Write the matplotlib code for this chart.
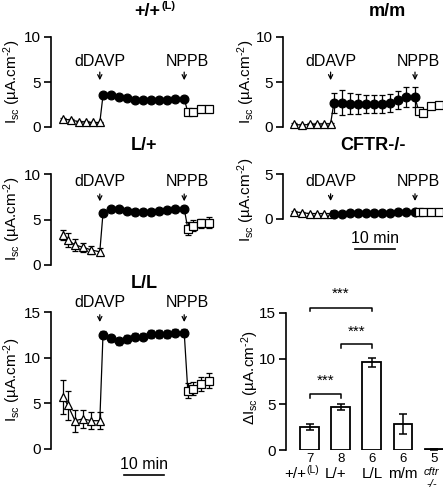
import matplotlib
matplotlib.use('Agg')
import matplotlib.pyplot as plt

plt.rcParams['font.family'] = ['Liberation Sans', 'DejaVu Sans']
plt.rcParams['mathtext.fontset'] = 'custom'
plt.rcParams['mathtext.rm'] = 'Liberation Sans'
plt.rcParams['mathtext.it'] = 'Liberation Sans:italic'
plt.rcParams['mathtext.bf'] = 'Liberation Sans:bold'

W, H = 443, 492
fig = plt.figure(figsize=(W / 100, H / 100), dpi=100)


def px_axes(left, right, top, bottom):
    return fig.add_axes([left / W, 1 - bottom / H, (right - left) / W, (bottom - top) / H])


# ---------------- data: time (min) ----------------
t_tri_a = [-10, -7.9, -6, -4.15, -2.5, -0.8]
t_tri_b = [-10, -8.8, -7, -5, -2.9, -0.8]
t_circ = [0, 2, 4, 6, 8, 10, 12, 14, 16, 18, 20.3]
t_sq = [21.2, 22.4, 24.4, 26.4]

# +/+(L)
wt_tri = [0.9, 0.75, 0.6, 0.55, 0.5, 0.5]
wt_tri_e = [0.15, 0.1, 0.1, 0.1, 0.1, 0.1]
wt_circ = [3.5, 3.5, 3.35, 3.2, 3.05, 3.0, 3.0, 3.0, 3.05, 3.1, 3.15]
wt_circ_e = [0.3, 0.2, 0.2, 0.2, 0.2, 0.2, 0.2, 0.2, 0.2, 0.2, 0.2]
wt_sq = [1.65, 1.7, 2.0, 2.0]
wt_sq_e = [0.2, 0.2, 0.2, 0.2]

# m/m
mm_tri = [0.3, 0.2, 0.3, 0.3, 0.35, 0.35]
mm_tri_e = [0.1, 0.1, 0.1, 0.1, 0.1, 0.1]
mm_circ = [2.65, 2.7, 2.6, 2.55, 2.5, 2.5, 2.55, 2.65, 3.0, 3.3, 3.3]
mm_circ_e = [1.1, 1.4, 1.2, 1.1, 1.0, 1.0, 1.0, 1.0, 1.0, 1.1, 1.1]
mm_sq = [1.8, 1.55, 2.35, 2.45]
mm_sq_e = [0.2, 0.15, 0.2, 0.2]

# L/+
lp_tri = [3.3, 2.75, 2.2, 1.95, 1.65, 1.45]
lp_tri_e = [0.6, 0.8, 0.7, 0.5, 0.4, 0.4]
lp_circ = [5.7, 6.1, 6.1, 5.9, 5.8, 5.8, 5.8, 5.9, 6.0, 6.1, 6.2]
lp_circ_e = [0.3, 0.3, 0.3, 0.3, 0.3, 0.3, 0.3, 0.3, 0.3, 0.3, 0.3]
lp_sq = [4.0, 4.3, 4.6, 4.65]
lp_sq_e = [0.7, 0.6, 0.5, 0.6]

# CFTR-/-
ko_tri = [0.8, 0.7, 0.6, 0.6, 0.6, 0.6]
ko_tri_e = [0.1, 0.1, 0.1, 0.1, 0.1, 0.1]
ko_circ = [0.6, 0.6, 0.65, 0.65, 0.65, 0.7, 0.7, 0.7, 0.75, 0.75, 0.8]
ko_circ_e = [0.1, 0.1, 0.1, 0.1, 0.1, 0.1, 0.1, 0.1, 0.1, 0.1, 0.1]
ko_sq = [0.8, 0.8, 0.8, 0.8]
ko_sq_e = [0.1, 0.1, 0.1, 0.1]

# L/L
ll_tri = [5.7, 4.8, 3.1, 3.3, 3.1, 3.1]
ll_tri_e = [1.9, 1.6, 1.2, 1.0, 0.9, 0.9]
ll_circ = [12.5, 12.1, 11.8, 12.05, 12.3, 12.3, 12.6, 12.6, 12.6, 12.75, 12.75]
ll_circ_e = [0.4, 0.4, 0.4, 0.4, 0.4, 0.4, 0.4, 0.4, 0.4, 0.4, 0.4]
ll_sq = [6.4, 6.6, 7.1, 7.5]
ll_sq_e = [0.8, 0.7, 0.8, 0.8]

# bar chart
bar_groups = ['+/+', 'L/+', 'L/L', 'm/m', 'cftr']
bar_n = ['7', '8', '6', '6', '5']
bar_vals = [2.5, 4.7, 9.6, 2.85, 0.1]
bar_errs = [0.35, 0.3, 0.5, 1.1, 0.05]

t_dDAVP = -0.8
t_NPPB = 20.3

ms = 6.3
mew = 0.9
lbl_fs = 11.5
tick_fs = 11
title_fs = 13


def style_axis(ax, yticks, ylim):
    for s in ['top', 'right', 'bottom']:
        ax.spines[s].set_visible(False)
    ax.spines['left'].set_linewidth(1.2)
    ax.spines['left'].set_bounds(ylim[0], ylim[1])
    ax.set_ylim(*ylim)
    ax.set_yticks(yticks)
    ax.set_xticks([])
    ax.tick_params(axis='y', direction='out', length=5, width=1.2, labelsize=tick_fs, pad=2)
    ax.patch.set_visible(False)


def trace(ax, tri, tri_e, circ, circ_e, sq, sq_e, t_tri, xlim, ylim, yticks, txt_y, arr_top, arr_bot):
    style_axis(ax, yticks, ylim)
    ax.set_xlim(*xlim)
    t_all = list(t_tri) + list(t_circ) + list(t_sq)
    v_all = list(tri) + list(circ) + list(sq)
    ax.plot(t_all, v_all, color='black', lw=0.9, zorder=1, clip_on=False)
    common = dict(ecolor='black', elinewidth=0.9, capsize=2.5, capthick=0.9, ls='none',
                  markeredgewidth=mew, markeredgecolor='black', clip_on=False)
    ax.errorbar(t_tri, tri, yerr=tri_e, fmt='^', markersize=ms, markerfacecolor='white', zorder=3, **common)
    ax.errorbar(t_circ, circ, yerr=circ_e, fmt='o', markersize=ms, markerfacecolor='black', zorder=3, **common)
    ax.errorbar(t_sq, sq, yerr=sq_e, fmt='s', markersize=ms - 0.8, markerfacecolor='white', zorder=3, **common)
    for t, lab, dx in [(t_dDAVP, 'dDAVP', 0.0), (t_NPPB, 'NPPB', 0.9)]:
        ax.text(t + dx, txt_y, lab, ha='center', va='center', fontsize=lbl_fs, clip_on=False)
        ax.annotate('', xy=(t, arr_bot), xytext=(t, arr_top),
                    arrowprops=dict(arrowstyle='->,head_length=0.3,head_width=0.15', color='black', lw=0.9,
                                    shrinkA=0, shrinkB=0), annotation_clip=False)


def ylabel(xpx, ypx, text):
    fig.text(xpx / W, 1 - ypx / H, text, rotation=90, ha='center', va='center', fontsize=11)


ylab = r'I$_{\rm sc}$ (µA.cm$^{\text{-2}}$)'

# Panel +/+(L)
ax1 = px_axes(51, 215, 37, 127)
trace(ax1, wt_tri, wt_tri_e, wt_circ, wt_circ_e, wt_sq, wt_sq_e, t_tri_a,
      (-13, 28), (0, 10), [0, 5, 10], 7.25, 6.1, 5.2)
ylabel(12, 82, ylab)

# Panel m/m
ax2 = px_axes(283, 443, 37, 127)
trace(ax2, mm_tri, mm_tri_e, mm_circ, mm_circ_e, mm_sq, mm_sq_e, t_tri_a,
      (-12.7, 27.3), (0, 10), [0, 5, 10], 7.25, 6.1, 5.2)
ylabel(246, 82, ylab)

# Panel L/+
ax3 = px_axes(51, 215, 174, 265)
trace(ax3, lp_tri, lp_tri_e, lp_circ, lp_circ_e, lp_sq, lp_sq_e, t_tri_b,
      (-13, 28), (0, 10), [0, 5, 10], 9.15, 7.8, 7.0)
ylabel(12, 219, ylab)

# Panel CFTR-/-
ax4 = px_axes(283, 443, 174, 219)
trace(ax4, ko_tri, ko_tri_e, ko_circ, ko_circ_e, ko_sq, ko_sq_e, t_tri_a,
      (-12.7, 27.3), (0, 5), [0, 5], 4.15, 2.8, 2.0)
ylabel(246, 200, ylab)
ax4.plot([5.2, 15.2], [-3.35, -3.35], color='black', lw=1.2, clip_on=False)
ax4.text(10.2, -2.15, '10 min', ha='center', va='center', fontsize=lbl_fs, clip_on=False)

# Panel L/L
ax5 = px_axes(51, 215, 312, 449)
trace(ax5, ll_tri, ll_tri_e, ll_circ, ll_circ_e, ll_sq, ll_sq_e, t_tri_b,
      (-13, 28), (0, 15), [0, 5, 10, 15], 16.05, 14.7, 13.9)
ylabel(12, 380, ylab)
ax5.plot([5.2, 15.2], [-2.9, -2.9], color='black', lw=1.2, clip_on=False)
ax5.text(10.2, -1.75, '10 min', ha='center', va='center', fontsize=lbl_fs, clip_on=False)


# Titles
def ftext(xpx, ypx, s, **kw):
    fig.text(xpx / W, 1 - ypx / H, s, **kw)


ftext(160, 12, '+/+', ha='right', va='center', fontsize=title_fs, fontweight='bold')
ftext(161, 6, '(L)', ha='left', va='center', fontsize=8, fontweight='bold')
ftext(387, 12, 'm/m', ha='center', va='center', fontsize=title_fs, fontweight='bold')
ftext(144, 146, 'L/+', ha='center', va='center', fontsize=title_fs, fontweight='bold')
ftext(373, 146, 'CFTR-/-', ha='center', va='center', fontsize=title_fs, fontweight='bold')
ftext(144, 284, 'L/L', ha='center', va='center', fontsize=title_fs, fontweight='bold')

# Bar chart
ax6 = px_axes(286, 443, 313, 450)
style_axis(ax6, [0, 5, 10, 15], (0, 15))
xs = list(range(len(bar_vals)))
ax6.set_xlim(-0.77, 4.29)
ax6.bar(xs, bar_vals, width=0.61, color='white', edgecolor='black', linewidth=1.3, zorder=2)
ax6.errorbar(xs, bar_vals, yerr=bar_errs, fmt='none', ecolor='black', elinewidth=1.1,
             capsize=3, capthick=1.1, zorder=3)
ylabel(250, 378, r'ΔI$_{\rm sc}$ (µA.cm$^{\text{-2}}$)')

for x, n in zip(xs, bar_n):
    ax6.text(x, -1.0, n, ha='center', va='center', fontsize=9.5, clip_on=False)
gy = -2.6
ax6.text(-0.12, gy, '+/+', ha='right', va='center', fontsize=11, clip_on=False)
ax6.text(-0.11, gy + 0.4, '(L)', ha='left', va='center', fontsize=7.5, clip_on=False)
ax6.text(0.83, gy, bar_groups[1], ha='center', va='center', fontsize=11, clip_on=False)
ax6.text(2, gy, bar_groups[2], ha='center', va='center', fontsize=11, clip_on=False)
ax6.text(3, gy, bar_groups[3], ha='center', va='center', fontsize=11, clip_on=False)
ax6.text(3.93, -2.45, bar_groups[4], ha='center', va='center', fontsize=8, style='italic', clip_on=False)
ax6.text(3.93, -3.75, '-/-', ha='center', va='center', fontsize=8, style='italic', clip_on=False)


# significance brackets
def bracket(x0, x1, y, ystar):
    ax6.plot([x0, x0, x1, x1], [y - 0.4, y, y, y - 0.4], color='black', lw=1.1, clip_on=False)
    ax6.text((x0 + x1) / 2, ystar, '***', ha='center', va='center', fontsize=11, clip_on=False)


bracket(0, 1, 6.1, 7.6)
bracket(1, 2, 11.6, 12.9)
bracket(0, 2, 15.6, 17.1)

fig.savefig('out.png', dpi=100)
